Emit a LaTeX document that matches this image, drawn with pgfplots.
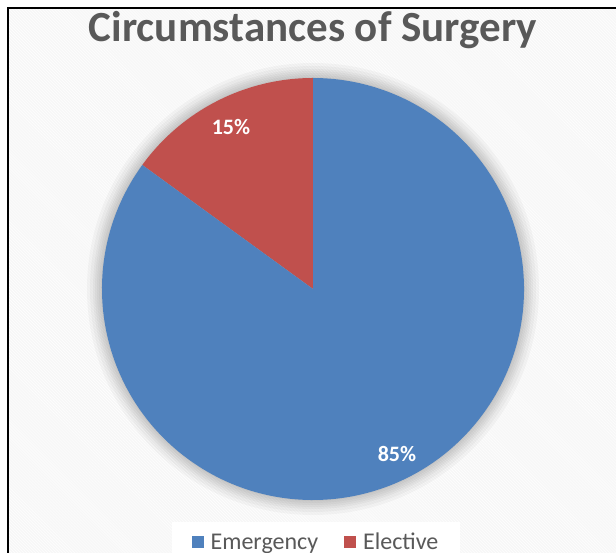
\documentclass[border=0pt]{standalone}
\usepackage{pgfplots}
\usepackage{pgfplotstable}
\pgfplotsset{compat=1.18}
\usetikzlibrary{patterns}
\usepackage{fontspec}
\setmainfont{Carlito}

\definecolor{emergency}{HTML}{4F81BD}
\definecolor{elective}{HTML}{C0504D}
\definecolor{titlegray}{HTML}{595959}
\definecolor{legendgray}{HTML}{595959}

% share of operations by circumstance (percent)
\pgfplotstableread{
label      value
Emergency  85
Elective   15
}\surgery

\begin{document}
\begin{tikzpicture}
\pgfplotstablegetelem{0}{value}\of\surgery \let\valA\pgfplotsretval
\pgfplotstablegetelem{1}{value}\of\surgery \let\valB\pgfplotsretval
\pgfmathsetmacro{\total}{\valA+\valB}
% the red slice starts at twelve o'clock and turns counter-clockwise
\pgfmathsetmacro{\aStart}{90}
\pgfmathsetmacro{\aMid}{90+360*\valB/\total}
\pgfmathsetmacro{\aEnd}{450}
\begin{axis}[
  scale only axis,
  width=616bp, height=553bp,
  xmin=0, xmax=616, ymin=0, ymax=553,
  hide axis,
  clip=false,
  legend columns=2,
  legend style={
    at={(axis cs:316,31)}, anchor=north,
    draw=none, fill=white,
    font=\fontsize{24bp}{27bp}\selectfont\color{legendgray},
    inner xsep=20bp, inner ysep=9bp,
    /tikz/every even column/.append style={column sep=24bp},
  },
  legend image code/.code={
    \fill[#1, draw=none] (0bp,-6bp) rectangle (12bp,6bp);
    \path[draw=none, fill=none] (0bp,0bp) -- (17bp,0bp);
  },
]
  % chart area: frame and striped background
  \fill[white] (axis cs:0,0) rectangle (axis cs:616,553);
  \fill[gray!6] (axis cs:8,0) rectangle (axis cs:616,545);
  \fill[pattern=north west lines, pattern color=white] (axis cs:8,0) rectangle (axis cs:616,545);
  \draw[black, line width=1.4bp] (axis cs:8,0) -- (axis cs:8,545) -- (axis cs:616,545);

  % soft halo behind the pie
  \fill[black, opacity=0.03] (axis cs:313,264) circle[radius=226bp];
  \fill[black, opacity=0.03] (axis cs:313,264) circle[radius=223bp];
  \fill[black, opacity=0.03] (axis cs:313,264) circle[radius=220bp];
  \fill[black, opacity=0.03] (axis cs:313,264) circle[radius=218bp];
  \fill[black, opacity=0.03] (axis cs:313,264) circle[radius=216bp];
  \fill[black, opacity=0.03] (axis cs:313,264) circle[radius=214bp];
  \fill[black, opacity=0.03] (axis cs:313,264) circle[radius=212bp];

  % slices
  \fill[elective] (axis cs:313,264) -- ++(\aStart:211bp)
     arc[start angle=\aStart, end angle=\aMid, radius=211bp] -- cycle;
  \fill[emergency] (axis cs:313,264) -- ++(\aMid:211bp)
     arc[start angle=\aMid, end angle=\aEnd, radius=211bp] -- cycle;

  % values on the slices
  \node[white, font=\fontsize{22bp}{24bp}\selectfont\bfseries, anchor=base]
     at (axis cs:231,418) {\valB\%};
  \node[white, font=\fontsize{22bp}{24bp}\selectfont\bfseries, anchor=base]
     at (axis cs:397,91) {\valA\%};

  % title
  \node[titlegray, font=\fontsize{43bp}{46bp}\selectfont\bfseries, anchor=base]
     at (axis cs:313,511) {Circumstances of Surgery};

  \addlegendimage{fill=emergency}
  \addlegendentry{Emergency}
  \addlegendimage{fill=elective}
  \addlegendentry{Elective}
\end{axis}
\pgfresetboundingbox
\path (0,0) rectangle (616bp,553bp);
\end{tikzpicture}
\end{document}
